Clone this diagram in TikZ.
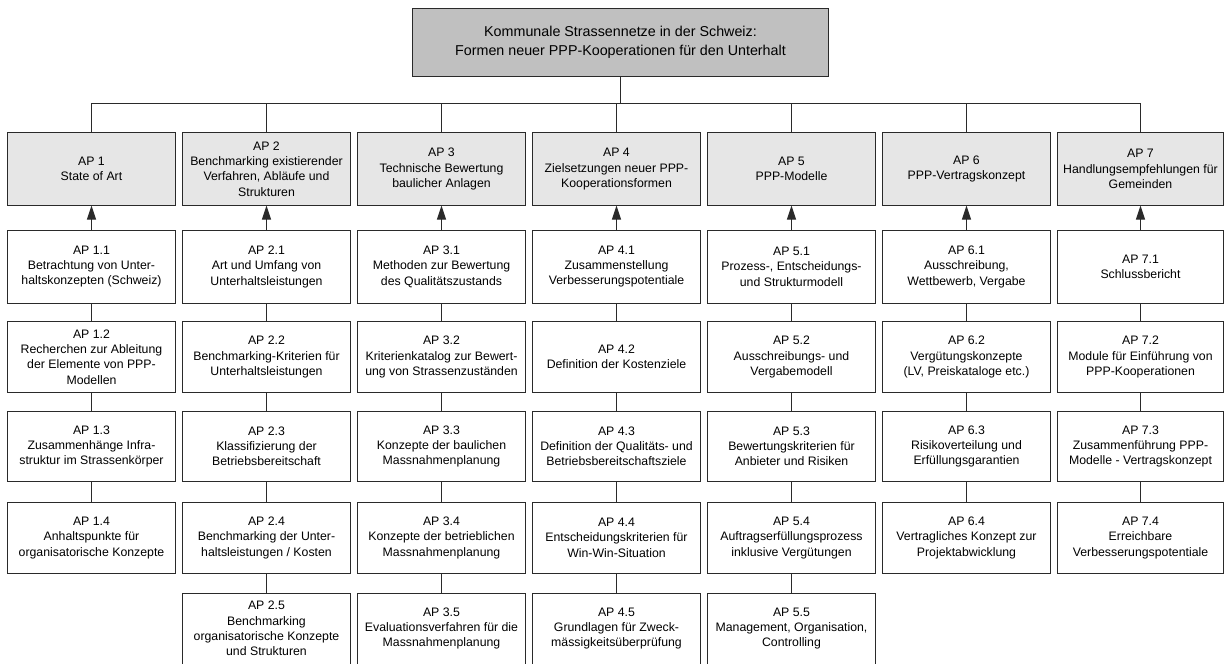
\documentclass[tikz,border=0pt]{standalone}
\usepackage{fontspec}
\setmainfont{Liberation Sans}
\usetikzlibrary{arrows.meta}
\definecolor{linec}{HTML}{2A2A2A}
\definecolor{titlefill}{HTML}{C0C0C0}
\definecolor{headfill}{HTML}{E6E6E6}
\begin{document}
\begin{tikzpicture}[x=1pt,y=-1pt,
  every node/.style={inner sep=0pt, outer sep=0pt},
  apbox/.style={draw=linec, line width=1pt, fill=white, rectangle, align=center,
    minimum width=168pt, font=\fontsize{12.3}{15.3}\selectfont},
  lastcol/.style={minimum width=165.5pt},
  headbox/.style={apbox, fill=headfill, minimum height=72.8pt},
  row1/.style={apbox, minimum height=73.3pt},
  rowk/.style={apbox, minimum height=70.8pt},
  titlebox/.style={draw=linec, line width=1pt, fill=titlefill, rectangle, align=center,
    minimum width=415.6pt, minimum height=67.7pt, font=\fontsize{14.3}{18.5}\selectfont},
  link/.style={draw=linec, line width=1pt},
  uparrow/.style={link, -{Triangle[length=14pt,width=9pt]}}
]
\useasboundingbox (0,0) rectangle (1224,664);

% project title
\node[titlebox] (title) at (620.5,42.2) {Kommunale Strassennetze in der Schweiz:\\Formen neuer PPP-Kooperationen für den Unterhalt};

% work package headers
\node[headbox] (h1) at (91.5,169.1)  {AP 1\\State of Art};
\node[headbox] (h2) at (266.5,169.1) {AP 2\\Benchmarking existierender\\Verfahren, Abläufe und\\Strukturen};
\node[headbox] (h3) at (441.5,169.1) {AP 3\\Technische Bewertung\\baulicher Anlagen};
\node[headbox] (h4) at (616.5,169.1) {AP 4\\Zielsetzungen neuer PPP-\\Kooperationsformen};
\node[headbox] (h5) at (791.5,169.1) {AP 5\\PPP-Modelle};
\node[headbox] (h6) at (966.5,169.1) {AP 6\\PPP-Vertragskonzept};
\node[headbox,lastcol] (h7) at (1140.5,169.1) {AP 7\\Handlungsempfehlungen für\\Gemeinden};

% column 1
\node[row1] (a11) at (91.5,266.7) {AP 1.1\\Betrachtung von Unter-\\haltskonzepten (Schweiz)};
\node[rowk] (a12) at (91.5,357.0) {AP 1.2\\Recherchen zur Ableitung\\der Elemente von PPP-\\Modellen};
\node[rowk] (a13) at (91.5,446.4) {AP 1.3\\Zusammenhänge Infra-\\struktur im Strassenkörper};
\node[rowk] (a14) at (91.5,537.8) {AP 1.4\\Anhaltspunkte für\\organisatorische Konzepte};

% column 2
\node[row1] (a21) at (266.5,266.7) {AP 2.1\\Art und Umfang von\\Unterhaltsleistungen};
\node[rowk] (a22) at (266.5,357.0) {AP 2.2\\Benchmarking-Kriterien für\\Unterhaltsleistungen};
\node[rowk] (a23) at (266.5,446.4) {AP 2.3\\Klassifizierung der\\Betriebsbereitschaft};
\node[rowk] (a24) at (266.5,537.8) {AP 2.4\\Benchmarking der Unter-\\haltsleistungen / Kosten};
\node[rowk] (a25) at (266.5,628.6) {AP 2.5\\Benchmarking\\organisatorische Konzepte\\und Strukturen};

% column 3
\node[row1] (a31) at (441.5,266.7) {AP 3.1\\Methoden zur Bewertung\\des Qualitätszustands};
\node[rowk] (a32) at (441.5,357.0) {AP 3.2\\Kriterienkatalog zur Bewert-\\ung von Strassenzuständen};
\node[rowk] (a33) at (441.5,446.4) {AP 3.3\\Konzepte der baulichen\\Massnahmenplanung};
\node[rowk] (a34) at (441.5,537.8) {AP 3.4\\Konzepte der betrieblichen\\Massnahmenplanung};
\node[rowk] (a35) at (441.5,628.6) {AP 3.5\\Evaluationsverfahren für die\\Massnahmenplanung};

% column 4
\node[row1] (a41) at (616.5,266.7) {AP 4.1\\Zusammenstellung\\Verbesserungspotentiale};
\node[rowk] (a42) at (616.5,357.0) {AP 4.2\\Definition der Kostenziele};
\node[rowk] (a43) at (616.5,446.4) {AP 4.3\\Definition der Qualitäts- und\\Betriebsbereitschaftsziele};
\node[rowk] (a44) at (616.5,537.8) {AP 4.4\\Entscheidungskriterien für\\Win-Win-Situation};
\node[rowk] (a45) at (616.5,628.6) {AP 4.5\\Grundlagen für Zweck-\\mässigkeitsüberprüfung};

% column 5
\node[row1] (a51) at (791.5,266.7) {AP 5.1\\Prozess-, Entscheidungs-\\und Strukturmodell};
\node[rowk] (a52) at (791.5,357.0) {AP 5.2\\Ausschreibungs- und\\Vergabemodell};
\node[rowk] (a53) at (791.5,446.4) {AP 5.3\\Bewertungskriterien für\\Anbieter und Risiken};
\node[rowk] (a54) at (791.5,537.8) {AP 5.4\\Auftragserfüllungsprozess\\inklusive Vergütungen};
\node[rowk] (a55) at (791.5,628.6) {AP 5.5\\Management, Organisation,\\Controlling};

% column 6
\node[row1] (a61) at (966.5,266.7) {AP 6.1\\Ausschreibung,\\Wettbewerb, Vergabe};
\node[rowk] (a62) at (966.5,357.0) {AP 6.2\\Vergütungskonzepte\\(LV, Preiskataloge etc.)};
\node[rowk] (a63) at (966.5,446.4) {AP 6.3\\Risikoverteilung und\\Erfüllungsgarantien};
\node[rowk] (a64) at (966.5,537.8) {AP 6.4\\Vertragliches Konzept zur\\Projektabwicklung};

% column 7
\node[row1,lastcol] (a71) at (1140.5,266.7) {AP 7.1\\Schlussbericht};
\node[rowk,lastcol] (a72) at (1140.5,357.0) {AP 7.2\\Module für Einführung von\\PPP-Kooperationen};
\node[rowk,lastcol] (a73) at (1140.5,446.4) {AP 7.3\\Zusammenführung PPP-\\Modelle - Vertragskonzept};
\node[rowk,lastcol] (a74) at (1140.5,537.8) {AP 7.4\\Erreichbare\\Verbesserungspotentiale};

% distribution bus from the title to the headers
\coordinate (bus) at (0,103);
\draw[link] (title.south) -- (title.south |- bus);
\draw[link] (h1.north) -- (h1.north |- bus) -- (h7.north |- bus) -- (h7.north);
\foreach \h in {h2,h3,h4,h5,h6} \draw[link] (\h.north) -- (\h.north |- bus);

% arrows from first sub-package up to each header
\foreach \c in {1,...,7} \draw[uparrow] (a\c1.north) -- (h\c.south);

% chains of sub-packages
\foreach \c/\n in {1/4,2/5,3/5,4/5,5/5,6/4,7/4}{
  \pgfmathtruncatemacro\last{\n-1}
  \foreach \r in {1,...,\last}{
    \pgfmathtruncatemacro\nx{\r+1}
    \draw[link] (a\c\r.south) -- (a\c\nx.north);
  }
}
\end{tikzpicture}
\end{document}
